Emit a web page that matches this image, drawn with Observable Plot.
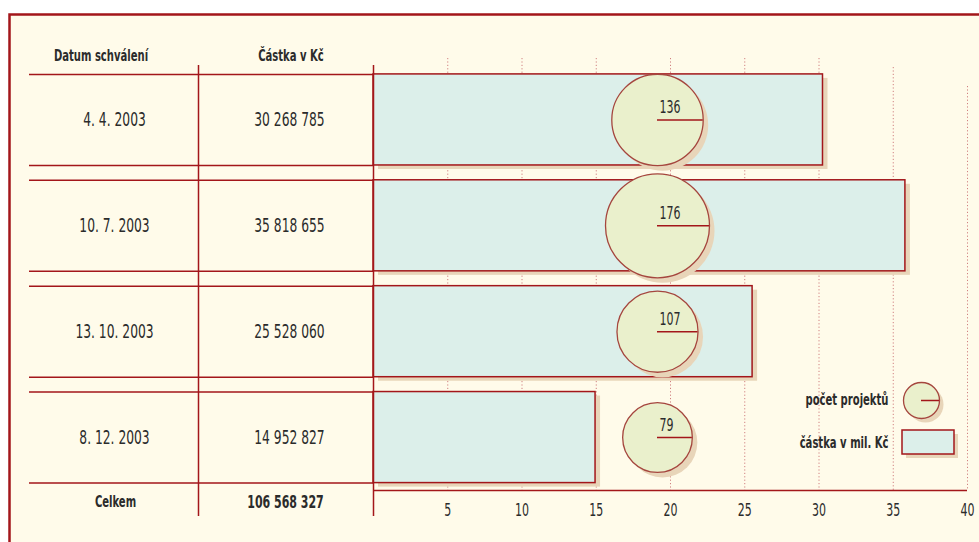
<!DOCTYPE html>
<html><head><meta charset="utf-8">
<script src="https://cdn.jsdelivr.net/npm/d3@7"></script>
<script src="https://cdn.jsdelivr.net/npm/@observablehq/plot@0.6"></script>
<style>
html,body{margin:0;padding:0;background:#fff;}
svg{display:block;}
</style></head><body><div id="chart"></div>
<script>
// ---- data ----
const dates = ["4. 4. 2003", "10. 7. 2003", "13. 10. 2003", "8. 12. 2003"];
const amounts = [30268785, 35818655, 25528060, 14952827];
const projects = [136, 176, 107, 79];
const xTicks = [5, 10, 15, 20, 25, 30, 35, 40];
const headers = ["Datum schválení", "Částka v Kč"];
const totalLabel = "Celkem";
const legendLabels = ["počet projektů", "částka v mil. Kč"];

const rows = dates.map((date, i) => ({date, amount: amounts[i], mil: amounts[i] / 1e6, projects: projects[i]}));
const total = d3.sum(amounts);
const fmt = d3.formatLocale({decimal: ",", thousands: " ", grouping: [3], currency: ["", ""]}).format(",d");

// ---- layout ----
const W = 979, H = 542;
const M = {top: 14, left: 9, right: -5, bottom: -5};
const X_RANGE = [373, 967];
const Y_RANGE = [66.5, 490];
const PAD_IN = 0.14, PAD_OUT = 0.07;
const step = (Y_RANGE[1] - Y_RANGE[0]) / (dates.length - PAD_IN + 2 * PAD_OUT);
const bw = step * (1 - PAD_IN);
const rowStart = i => Y_RANGE[0] + PAD_OUT * step + i * step;
const rowCenter = i => rowStart(i) + bw / 2;
const frameBottom = H - M.bottom;

const xScale = Plot.scale({x: {domain: [0, 40], range: X_RANGE}});
const rScale = Plot.scale({r: {type: "sqrt", domain: [0, 176], range: [0, 52]}});
const px2x = p => xScale.invert(p);
const CX = px2x(657);

const RED = "#a3161a";
const SHADOW = "#e8d5b9";
const INK = "#2b2b2b";
const FONT = "'DejaVu Sans Condensed', 'DejaVu Sans', sans-serif";
const CONDENSE = 0.72;
const REG = 19, BOLD = 15.5, TICK = 17;

const atY = (yPix) => ({frameAnchor: "top", lineAnchor: "middle", dy: yPix - M.top});

const chart = Plot.plot({
  width: W, height: H,
  marginTop: M.top, marginLeft: M.left, marginRight: M.right, marginBottom: M.bottom,
  style: {fontFamily: FONT, background: "#fff", color: INK},
  x: {domain: [0, 40], range: X_RANGE, axis: null},
  y: {type: "band", domain: dates, range: Y_RANGE, paddingInner: PAD_IN, paddingOuter: PAD_OUT, align: 0.5, round: false, axis: null},
  r: {type: "sqrt", domain: [0, 176], range: [0, 52]},
  marks: [
    Plot.frame({fill: "#fffbea", stroke: RED, strokeWidth: 2.5}),
    // grid
    Plot.ruleX(xTicks.filter(t => t <= 30), {x: d => d, stroke: "#d08080", strokeDasharray: "1.2,2.2", insetTop: 58 - M.top, insetBottom: frameBottom - 490}),
    Plot.ruleX(xTicks.filter(t => t === 35), {x: d => d, stroke: "#d08080", strokeDasharray: "1.2,2.2", insetTop: 67 - M.top, insetBottom: frameBottom - 490}),
    Plot.ruleX(xTicks.filter(t => t === 40), {x: d => d, stroke: "#d08080", strokeDasharray: "1.2,2.2", insetTop: 86 - M.top, insetBottom: frameBottom - 490}),
    // table horizontal lines
    Plot.ruleY(rows, {y: "date", x1: px2x(29), x2: 0, dy: -bw / 2, stroke: RED, strokeWidth: 1.5}),
    Plot.ruleY(rows, {y: "date", x1: px2x(29), x2: 0, dy: bw / 2, stroke: RED, strokeWidth: 1.5}),
    // bars
    Plot.barX(rows, {x: "mil", y: "date", fill: SHADOW, dx: 5, dy: 4}),
    Plot.barX(rows, {x: "mil", y: "date", fill: "#dcefea", stroke: RED, strokeWidth: 1.5}),
    // vertical table lines
    Plot.ruleX([px2x(198), 0], {x: d => d, stroke: RED, strokeWidth: 1.5, insetTop: 65 - M.top, insetBottom: frameBottom - 516}),
    // x axis line + labels
    Plot.ruleY([dates[dates.length - 1]], {y: d => d, x1: 0, x2: 40, dy: bw / 2 + PAD_OUT * step, stroke: RED, strokeWidth: 1.5}),
    Plot.text(xTicks, {x: d => d, text: d => String(d), ...atY(510), fontSize: TICK, fill: INK}),
    // circles
    Plot.dot(rows, {x: CX, y: "date", r: "projects", fill: SHADOW, dx: 5, dy: 5}),
    Plot.dot(rows, {x: CX, y: "date", r: "projects", fill: "#eaf0cc", stroke: "#a5463e", strokeWidth: 1.3}),
    Plot.ruleY(rows, {y: "date", x1: CX, x2: d => px2x(xScale.apply(CX) + rScale.apply(d.projects)), stroke: RED, strokeWidth: 1.5}),
    Plot.text(rows, {x: CX, y: "date", text: d => String(d.projects), textAnchor: "start", dx: 2, dy: -12, fontSize: TICK, fill: INK}),
    // table text
    Plot.text([headers[0]], {x: px2x(100.5), text: d => d, ...atY(56), fontSize: BOLD, fontWeight: "bold", fill: INK}),
    Plot.text([headers[1]], {x: px2x(290.5), text: d => d, ...atY(56), fontSize: BOLD, fontWeight: "bold", fill: INK}),
    Plot.text(rows, {x: px2x(114), y: "date", text: "date", fontSize: REG, fill: INK}),
    Plot.text(rows, {x: px2x(289), y: "date", text: d => fmt(d.amount), fontSize: REG, fill: INK}),
    Plot.text([totalLabel], {x: px2x(115), text: d => d, ...atY(502), fontSize: BOLD, fontWeight: "bold", fill: INK}),
    Plot.text([total], {x: px2x(285), text: d => fmt(d), ...atY(502), fontSize: 17, fontWeight: "bold", fill: INK}),
    // legend
    Plot.text([legendLabels[0]], {x: px2x(888), text: d => d, ...atY(400), textAnchor: "end", fontSize: BOLD, fontWeight: "bold", fill: INK}),
    Plot.text([legendLabels[1]], {x: px2x(888), text: d => d, ...atY(443), textAnchor: "end", fontSize: BOLD, fontWeight: "bold", fill: INK}),
    Plot.dot([0], {x: px2x(921), frameAnchor: "top", dy: 400 - M.top + 4, dx: 4, r: 18, fill: SHADOW}),
    Plot.dot([0], {x: px2x(921), frameAnchor: "top", dy: 400 - M.top, r: 18, fill: "#eaf0cc", stroke: "#a5463e", strokeWidth: 1.3}),
    Plot.ruleY([dates[3]], {y: d => d, x1: px2x(921), x2: px2x(939), dy: 400 - rowCenter(3), stroke: RED, strokeWidth: 1.5}),
    Plot.barX([rows[3]], {x1: px2x(902), x2: px2x(954), y: "date", insetTop: 430 - rowStart(3), insetBottom: rowStart(3) + bw - 454, fill: SHADOW, dx: 4, dy: 4}),
    Plot.barX([rows[3]], {x1: px2x(902), x2: px2x(954), y: "date", insetTop: 430 - rowStart(3), insetBottom: rowStart(3) + bw - 454, fill: "#dcefea", stroke: RED, strokeWidth: 1.5})
  ]
});
// condensed lettering like the original (text stays text)
d3.select(chart).selectAll("text").each(function () {
  const t = this.getAttribute("transform") || "";
  this.setAttribute("transform", (t + ` scale(${CONDENSE},1)`).trim());
});
document.getElementById("chart").appendChild(chart);
</script></body></html>
